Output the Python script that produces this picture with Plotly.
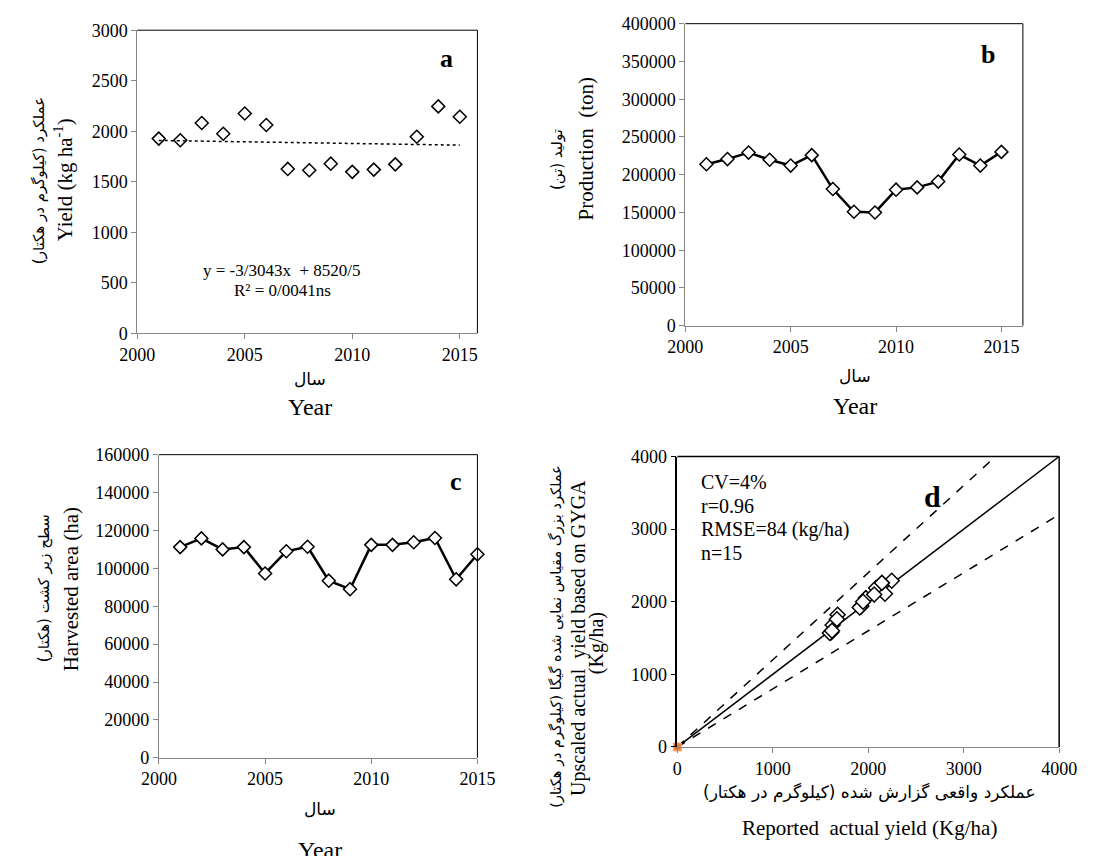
import plotly.graph_objects as go

W, H = 1097, 856

# ---------------- data ----------------
years = [2001, 2002, 2003, 2004, 2005, 2006, 2007, 2008, 2009, 2010, 2011, 2012, 2013, 2014, 2015]
yield_kg_ha = [1927, 1911, 2082, 1975, 2175, 2062, 1627, 1614, 1679, 1598, 1620, 1672, 1946, 2246, 2143]
production_ton = [213800, 220700, 229300, 219800, 212100, 225900, 181000, 150900, 150000,
                  180200, 183200, 190900, 226700, 212100, 230200]
harvested_area_ha = [111200, 115800, 110000, 111200, 97300, 109000, 111400, 93500, 89000,
                     112400, 112400, 113800, 116000, 94200, 107400]
reported_yield = yield_kg_ha
upscaled_yield = [1940, 1920, 2190, 2050, 2110, 2100, 1680, 1580, 1820, 1570, 1600, 1760, 2000, 2290, 2260]
origin_point = [0]
trend_slope = -3.3043
trend_intercept = 8520.5
ref_ratios = [1.0, 1.2, 0.8]
d_max = 4000

SERIF = "Liberation Serif"
FA = "DejaVu Sans"
GRAY = "#868686"

fig = go.Figure()


def px(x):
    return x / W


def py(y):
    return 1 - y / H


marker_open = dict(symbol="diamond", size=10, color="white", line=dict(color="black", width=1.5))

# ---- panel a ----
fig.add_trace(go.Scatter(x=years, y=yield_kg_ha, mode="markers", marker=marker_open,
                         xaxis="x", yaxis="y", cliponaxis=False, showlegend=False))
tx = [years[0], years[-1]]
fig.add_trace(go.Scatter(x=tx, y=[trend_slope * v + trend_intercept for v in tx], mode="lines",
                         line=dict(color="black", width=1.5, dash="dot"),
                         xaxis="x", yaxis="y", showlegend=False))
# ---- panel b ----
fig.add_trace(go.Scatter(x=years, y=production_ton, mode="lines+markers", marker=marker_open,
                         line=dict(color="black", width=2.5),
                         xaxis="x2", yaxis="y2", cliponaxis=False, showlegend=False))
# ---- panel c ----
fig.add_trace(go.Scatter(x=years, y=harvested_area_ha, mode="lines+markers", marker=marker_open,
                         line=dict(color="black", width=2.5),
                         xaxis="x3", yaxis="y3", cliponaxis=False, showlegend=False))
# ---- panel d ----
for r in ref_ratios:
    fig.add_trace(go.Scatter(x=[0, d_max], y=[0, d_max * r], mode="lines",
                             line=dict(color="black", width=1.5,
                                       dash="solid" if r == 1.0 else "dash"),
                             xaxis="x4", yaxis="y4", showlegend=False))
fig.add_trace(go.Scatter(x=reported_yield, y=upscaled_yield, mode="markers",
                         marker=dict(symbol="diamond", size=11.5, color="white",
                                     line=dict(color="black", width=1.5)),
                         xaxis="x4", yaxis="y4", cliponaxis=False, showlegend=False))
fig.add_trace(go.Scatter(x=origin_point, y=origin_point, mode="markers",
                         marker=dict(symbol="square", size=8, color="#ED7D31",
                                     line=dict(color="#F4B183", width=1)),
                         xaxis="x4", yaxis="y4", cliponaxis=False, showlegend=False))

tickfont = dict(family=SERIF, size=18, color="black")


def ax(domain, rng, dtick, anchor, linecolor=GRAY, lw=1):
    return dict(domain=domain, range=rng, dtick=dtick, tick0=0, anchor=anchor,
                showgrid=False, zeroline=False, showline=True, linecolor=linecolor, linewidth=lw,
                ticks="outside", ticklen=5, tickcolor=linecolor, tickwidth=1,
                tickfont=tickfont, tickformat="d")


fig.update_layout(
    width=W, height=H,
    margin=dict(l=0, r=0, t=0, b=0),
    font=dict(family=SERIF, color="black"),
    paper_bgcolor="white", plot_bgcolor="white",
    xaxis=ax([px(123.3), px(475)], [2000, 2015.82], 5, "y"),
    yaxis=ax([py(331), py(20.7)], [0, 3000], 500, "x"),
    xaxis2=ax([px(690), px(1039)], [2000, 2016.02], 5, "y2"),
    yaxis2=ax([py(323.3), py(14)], [0, 400000], 50000, "x2"),
    xaxis3=ax([px(145.7), px(475)], [2000, 2015], 5, "y3"),
    yaxis3=ax([py(765.7), py(455.3)], [0, 160000], 20000, "x3"),
    xaxis4=ax([px(681.7), px(1076.5)], [0, 4000], 1000, "y4"),
    yaxis4=ax([py(754.6), py(457.2)], [0, 4000], 1000, "x4", linecolor="black", lw=1.5),
)

# borders (top & right)
for xr, yr, w in [("x", "y", 1), ("x2", "y2", 1), ("x3", "y3", 1), ("x4", "y4", 1.5)]:
    fig.add_shape(type="line", xref=f"{xr} domain", yref=f"{yr} domain", x0=0, x1=1, y0=1, y1=1,
                  line=dict(color="black", width=w))
    fig.add_shape(type="line", xref=f"{xr} domain", yref=f"{yr} domain", x0=1, x1=1, y0=0, y1=1,
                  line=dict(color="black", width=w))


def ann(text, x, y, size, family=SERIF, angle=0, bold=False, align="center", xanchor="center"):
    if bold:
        text = f"<b>{text}</b>"
    fig.add_annotation(text=text, x=px(x), y=py(y), xref="paper", yref="paper",
                       showarrow=False, textangle=angle, align=align, xanchor=xanchor,
                       yanchor="middle", font=dict(family=family, size=size, color="black"))


# panel a texts
ann("عملکرد (کیلوگرم در هکتار)", 22, 175, 15, FA, -90)
ann("Yield (kg ha<sup>-1</sup>)", 48, 174, 21, SERIF, -90)
ann("سال", 302, 378, 17, FA)
ann("Year", 302, 407, 24)
ann("a", 443, 50, 26, bold=True)
ann("y = -3/3043x  + 8520/5", 273, 267, 17)
ann("R² = 0/0041ns", 273, 287, 17)

# panel b texts
ann("تولید (تن)", 558, 153, 15, FA, -90)
ann("Production  (ton)", 587, 142, 21, SERIF, -90)
ann("سال", 865, 375, 17, FA)
ann("Year", 865, 405, 24)
ann("b", 1003, 46, 26, bold=True)

# panel c texts
ann("سطح زیر کشت (هکتار)", 27, 592, 15, FA, -90)
ann("Harvested area (ha)", 55, 593, 21, SERIF, -90)
ann("سال", 312, 818, 17, FA)
ann("Year", 312, 860, 24)
ann("c", 453, 483, 26, bold=True)

# panel d texts
ann("عملکرد بزرگ مقیاس نمایی شده گیگا (کیلوگرم در هکتار)", 556, 642, 14.5, FA, -90)
ann("Upscaled actual  yield based on GYGA", 580, 643, 20, SERIF, -90)
ann("(Kg/ha)", 599, 648, 20, SERIF, -90)
ann("عملکرد واقعی گزارش شده (کیلوگرم در هکتار)", 880, 801, 17, FA)
ann("Reported  actual yield (Kg/ha)", 880, 838, 21)
for i, t in enumerate(["CV=4%", "r=0.96", "RMSE=84 (kg/ha)", "n=15"]):
    ann(t, 704, 483 + i * 24.5, 20, xanchor="left", align="left")
ann("d", 946, 498, 30, bold=True)

fig.write_html("out.html")
